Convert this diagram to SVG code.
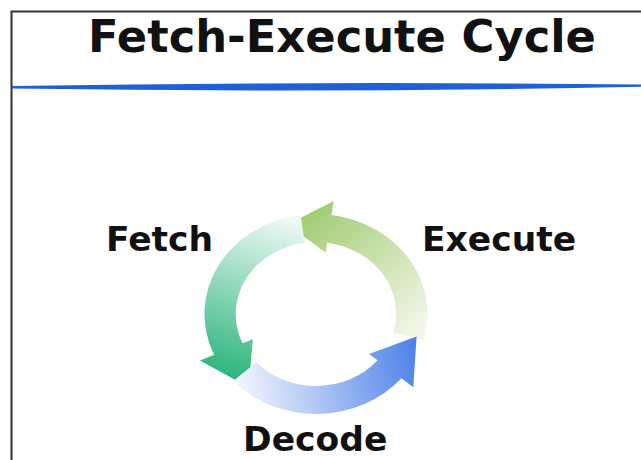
<svg xmlns="http://www.w3.org/2000/svg" width="641" height="460" viewBox="0 0 641 460">
  <style>
    .lbl { font-family: "DejaVu Sans", Verdana, sans-serif; font-weight: bold; fill: #111; }
    .title { font-size: 45px; }
    .node { font-size: 34.5px; }
  </style>
  <defs>
    <linearGradient id="gTop" gradientUnits="userSpaceOnUse" x1="92" y1="20" x2="-20" y2="-95">
      <stop offset="0" stop-color="#f4f7ea"/>
      <stop offset="1" stop-color="#9fcb70"/>
    </linearGradient>
    <linearGradient id="gLeft" gradientUnits="userSpaceOnUse" x1="-12" y1="-90" x2="-70" y2="65">
      <stop offset="0" stop-color="#eef9f5"/>
      <stop offset="1" stop-color="#2fb67c"/>
    </linearGradient>
    <linearGradient id="gBottom" gradientUnits="userSpaceOnUse" x1="-70" y1="60" x2="92" y2="30">
      <stop offset="0" stop-color="#f1f4fd"/>
      <stop offset="1" stop-color="#4a80e6"/>
    </linearGradient>
  </defs>
  <rect x="0" y="0" width="641" height="460" fill="#ffffff"/>
  <g id="frame">
    <path d="M11.5 460 L11.5 11.5 L641 11.5" fill="none" stroke="#333333" stroke-width="2"/>
    <path d="M12 86 Q 320 81 641 84.5 L 641 86.8 Q 320 93 12 88.5 Z" fill="#1f5fd8"/>
  </g>
  <g id="title">
    <text class="lbl title" x="342" y="52" text-anchor="middle" textLength="508" lengthAdjust="spacingAndGlyphs">Fetch-Execute Cycle</text>
  </g>
  <g id="connectors" transform="translate(316,314) scale(1.115,1)">
    <path id="arrow-execute-fetch" fill="url(#gTop)" d="M96.6 25.9 A100 100 0 0 0 13.9 -99.0 L15.9 -112.9 L-25.6 -89.4 L8.6 -61.4 L10.0 -71.3 A72 72 0 0 1 69.5 18.6 Z"/>
    <path id="arrow-fetch-decode" fill="url(#gLeft)" d="M-13.9 -99.0 A100 100 0 0 0 -91.4 40.7 L-104.1 46.4 L-60.4 73.3 L-56.6 25.2 L-65.8 29.3 A72 72 0 0 1 -10.0 -71.3 Z"/>
    <path id="arrow-decode-execute" fill="url(#gBottom)" d="M-74.3 66.9 A100 100 0 0 0 76.6 64.3 L87.3 73.3 L90.2 22.5 L47.5 39.9 L55.2 46.3 A72 72 0 0 1 -53.5 48.2 Z"/>
  </g>
  <g id="fetch">
    <text class="lbl node" x="106" y="251">Fetch</text>
  </g>
  <g id="execute">
    <text class="lbl node" x="422" y="251">Execute</text>
  </g>
  <g id="decode">
    <text class="lbl node" x="243" y="451" font-size="33.5">Decode</text>
  </g>
</svg>
